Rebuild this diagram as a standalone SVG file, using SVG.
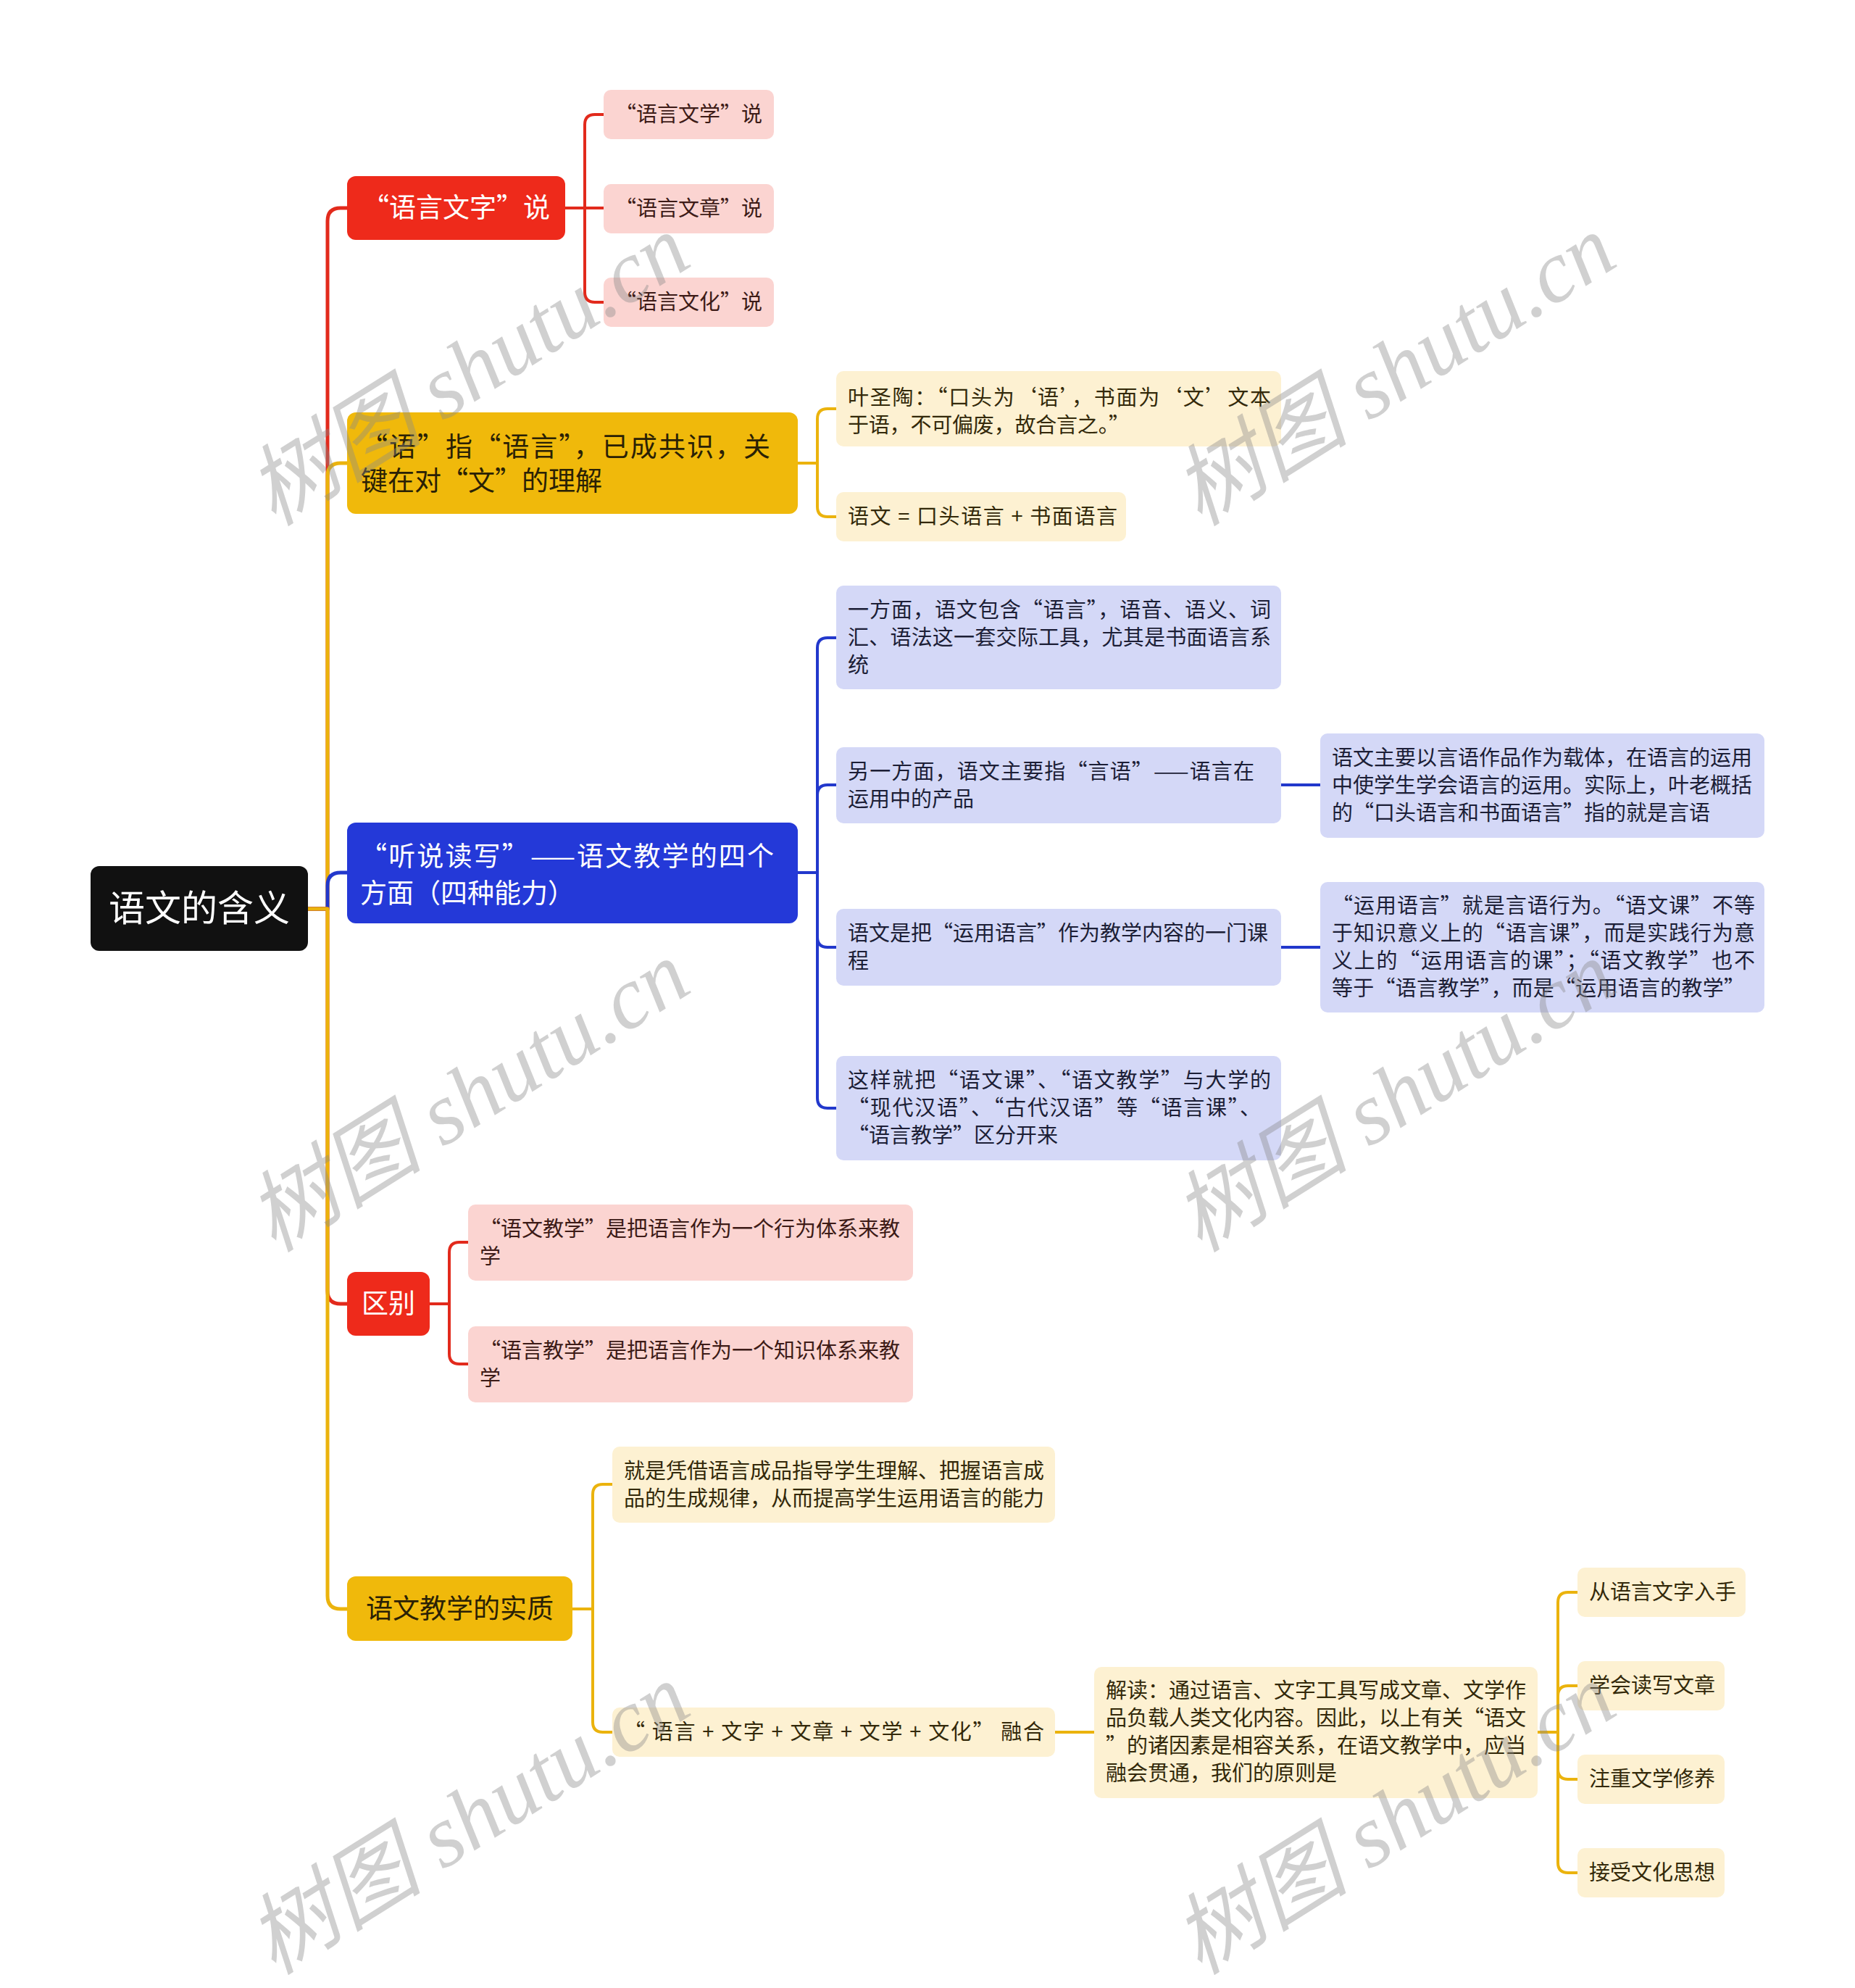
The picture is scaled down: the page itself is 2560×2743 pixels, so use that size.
<svg xmlns="http://www.w3.org/2000/svg" width="2560" height="2743" viewBox="0 0 2560 2743">
<style>
text{font-family:"Noto Sans CJK SC","Noto Sans",sans-serif;}
.e{fill:none;stroke-linecap:round;stroke-linejoin:round;}
.e1{stroke-width:5;}
.e2{stroke-width:4;}
.cr{stroke:#E22A1C;}
.cy{stroke:#EBB30D;}
.cb{stroke:#2238CC;}
.root{fill:#111111;}
.red{fill:#EE2A1B;}
.yel{fill:#F0B90B;}
.blu{fill:#2439D8;}
.pink{fill:#FBD4D1;}
.lyel{fill:#FDF1D2;}
.lblu{fill:#D4D8F7;}
.t0{font-size:50px;fill:#ffffff;}
.t1w{font-size:37px;fill:#ffffff;}
.t1d{font-size:37px;fill:#2a2105;}
.tp{font-size:29px;fill:#3d1b17;}
.ty{font-size:29px;fill:#33290a;}
.tb{font-size:29px;fill:#1c1e36;}
.wm{font-family:"Liberation Serif","Noto Sans CJK SC",serif;font-style:italic;font-size:122px;fill:#8a8a8a;fill-opacity:0.4;}
</style>

<g id="connectors">
  <path class="e e1 cr" d="M425,1254 H452 V305 Q452,287 470,287 H479"/>
  <path class="e e1 cy" d="M425,1254 H452 V657 Q452,639 470,639 H479"/>
  <path class="e e1 cb" d="M425,1254 H452 V1222 Q452,1204 470,1204 H479"/>
  <path class="e e1 cr" d="M425,1254 H452 V1781 Q452,1799 470,1799 H479"/>
  <path class="e e1 cy" d="M425,1254 H452 V2202 Q452,2220 470,2220 H479"/>

  <path class="e e2 cr" d="M780,287 H807 V172 Q807,158 821,158 H833"/>
  <path class="e e2 cr" d="M780,287 H833"/>
  <path class="e e2 cr" d="M780,287 H807 V403 Q807,417 821,417 H833"/>

  <path class="e e2 cy" d="M1101,639 H1128 V578 Q1128,564 1142,564 H1154"/>
  <path class="e e2 cy" d="M1101,639 H1128 V699 Q1128,713 1142,713 H1154"/>

  <path class="e e2 cb" d="M1101,1204 H1128 V894 Q1128,880 1142,880 H1154"/>
  <path class="e e2 cb" d="M1101,1204 H1128 V1097 Q1128,1083 1142,1083 H1154"/>
  <path class="e e2 cb" d="M1101,1204 H1128 V1293 Q1128,1307 1142,1307 H1154"/>
  <path class="e e2 cb" d="M1101,1204 H1128 V1515 Q1128,1529 1142,1529 H1154"/>
  <path class="e e2 cb" d="M1768,1083 H1822"/>
  <path class="e e2 cb" d="M1768,1307 H1822"/>

  <path class="e e2 cr" d="M593,1799 H620 V1728 Q620,1714 634,1714 H646"/>
  <path class="e e2 cr" d="M593,1799 H620 V1868 Q620,1882 634,1882 H646"/>

  <path class="e e2 cy" d="M790,2220 H818 V2062 Q818,2048 832,2048 H845"/>
  <path class="e e2 cy" d="M790,2220 H818 V2376 Q818,2390 832,2390 H845"/>
  <path class="e e2 cy" d="M1456,2390 H1510"/>
  <path class="e e2 cy" d="M2122,2390 H2150 V2211 Q2150,2197 2164,2197 H2177"/>
  <path class="e e2 cy" d="M2122,2390 H2150 V2340 Q2150,2326 2164,2326 H2177"/>
  <path class="e e2 cy" d="M2122,2390 H2150 V2441 Q2150,2455 2164,2455 H2177"/>
  <path class="e e2 cy" d="M2122,2390 H2150 V2570 Q2150,2584 2164,2584 H2177"/>
</g>

<g id="root">
  <rect class="root" x="125" y="1195" width="300" height="117" rx="12"/>
  <text class="t0" x="275" y="1271" text-anchor="middle">语文的含义</text>
</g>

<g id="n-yuyanwenzi">
  <rect class="red" x="479" y="243" width="301" height="88" rx="12"/>
  <text class="t1w" x="629.5" y="300" text-anchor="middle">“语言文字”说</text>
</g>
<g id="n-wenxue">
  <rect class="pink" x="833" y="124" width="235" height="68" rx="10"/>
  <text class="tp" x="950.5" y="168" text-anchor="middle">“语言文学”说</text>
</g>
<g id="n-wenzhang">
  <rect class="pink" x="833" y="254" width="235" height="68" rx="10"/>
  <text class="tp" x="950.5" y="298" text-anchor="middle">“语言文章”说</text>
</g>
<g id="n-wenhua">
  <rect class="pink" x="833" y="383" width="235" height="68" rx="10"/>
  <text class="tp" x="950.5" y="427" text-anchor="middle">“语言文化”说</text>
</g>

<g id="n-yu">
  <rect class="yel" x="479" y="569" width="622" height="140" rx="12"/>
  <text class="t1d" x="498" y="630" textLength="565" lengthAdjust="spacing">“语”指“语言”，已成共识，关</text>
  <text class="t1d" x="498" y="677">键在对“文”的理解</text>
</g>
<g id="n-yeshengtao">
  <rect class="lyel" x="1154" y="512" width="614" height="104" rx="10"/>
  <text class="ty" x="1170" y="559" textLength="584" lengthAdjust="spacing">叶圣陶：“口头为‘语’，书面为‘文’文本</text>
  <text class="ty" x="1170" y="597" textLength="389" lengthAdjust="spacing">于语，不可偏废，故合言之。”</text>
</g>
<g id="n-yuwen-eq">
  <rect class="lyel" x="1154" y="679" width="400" height="68" rx="10"/>
  <text class="ty" x="1170" y="723" textLength="372" lengthAdjust="spacing">语文 = 口头语言 + 书面语言</text>
</g>

<g id="n-tingshuo">
  <rect class="blu" x="479" y="1135" width="622" height="139" rx="12"/>
  <text class="t1w" x="497" y="1195" textLength="571" lengthAdjust="spacing">“听说读写”——语文教学的四个</text>
  <text class="t1w" x="497" y="1246">方面（四种能力）</text>
</g>
<g id="n-yifangmian">
  <rect class="lblu" x="1154" y="808" width="614" height="143" rx="10"/>
  <text class="tb" x="1170" y="852" textLength="584" lengthAdjust="spacing">一方面，语文包含“语言”，语音、语义、词</text>
  <text class="tb" x="1170" y="890" textLength="584" lengthAdjust="spacing">汇、语法这一套交际工具，尤其是书面语言系</text>
  <text class="tb" x="1170" y="928">统</text>
</g>
<g id="n-lingyifangmian">
  <rect class="lblu" x="1154" y="1031" width="614" height="105" rx="10"/>
  <text class="tb" x="1170" y="1075" textLength="561" lengthAdjust="spacing">另一方面，语文主要指“言语”——语言在</text>
  <text class="tb" x="1170" y="1113">运用中的产品</text>
</g>
<g id="n-zaiti">
  <rect class="lblu" x="1822" y="1012" width="613" height="144" rx="10"/>
  <text class="tb" x="1838" y="1056">语文主要以言语作品作为载体，在语言的运用</text>
  <text class="tb" x="1838" y="1094">中使学生学会语言的运用。实际上，叶老概括</text>
  <text class="tb" x="1838" y="1132">的“口头语言和书面语言”指的就是言语</text>
</g>
<g id="n-kecheng">
  <rect class="lblu" x="1154" y="1254" width="614" height="106" rx="10"/>
  <text class="tb" x="1170" y="1298">语文是把“运用语言”作为教学内容的一门课</text>
  <text class="tb" x="1170" y="1336">程</text>
</g>
<g id="n-yunyong">
  <rect class="lblu" x="1822" y="1217" width="613" height="180" rx="10"/>
  <text class="tb" x="1838" y="1260" textLength="584" lengthAdjust="spacing">“运用语言”就是言语行为。“语文课”不等</text>
  <text class="tb" x="1838" y="1298" textLength="584" lengthAdjust="spacing">于知识意义上的“语言课”，而是实践行为意</text>
  <text class="tb" x="1838" y="1336" textLength="584" lengthAdjust="spacing">义上的“运用语言的课”；“语文教学”也不</text>
  <text class="tb" x="1838" y="1374" textLength="570" lengthAdjust="spacing">等于“语言教学”，而是“运用语言的教学”</text>
</g>
<g id="n-qufen">
  <rect class="lblu" x="1154" y="1457" width="614" height="144" rx="10"/>
  <text class="tb" x="1170" y="1501" textLength="584" lengthAdjust="spacing">这样就把“语文课”、“语文教学”与大学的</text>
  <text class="tb" x="1170" y="1539" textLength="570" lengthAdjust="spacing">“现代汉语”、“古代汉语”等“语言课”、</text>
  <text class="tb" x="1170" y="1577">“语言教学”区分开来</text>
</g>

<g id="n-qubie">
  <rect class="red" x="479" y="1755" width="114" height="88" rx="12"/>
  <text class="t1w" x="536" y="1812" text-anchor="middle">区别</text>
</g>
<g id="n-xingwei">
  <rect class="pink" x="646" y="1662" width="614" height="105" rx="10"/>
  <text class="tp" x="662" y="1706">“语文教学”是把语言作为一个行为体系来教</text>
  <text class="tp" x="662" y="1744">学</text>
</g>
<g id="n-zhishi">
  <rect class="pink" x="646" y="1830" width="614" height="105" rx="10"/>
  <text class="tp" x="662" y="1874">“语言教学”是把语言作为一个知识体系来教</text>
  <text class="tp" x="662" y="1912">学</text>
</g>

<g id="n-shizhi">
  <rect class="yel" x="479" y="2175" width="311" height="89" rx="12"/>
  <text class="t1d" x="634.5" y="2233" text-anchor="middle">语文教学的实质</text>
</g>
<g id="n-pingjie">
  <rect class="lyel" x="845" y="1996" width="611" height="105" rx="10"/>
  <text class="ty" x="861" y="2040">就是凭借语言成品指导学生理解、把握语言成</text>
  <text class="ty" x="861" y="2078">品的生成规律，从而提高学生运用语言的能力</text>
</g>
<g id="n-ronghe">
  <rect class="lyel" x="845" y="2356" width="611" height="68" rx="10"/>
  <text class="ty" x="861" y="2400" textLength="580" lengthAdjust="spacing">“ 语言 + 文字 + 文章 + 文学 + 文化” 融合</text>
</g>
<g id="n-jiedu">
  <rect class="lyel" x="1510" y="2300" width="612" height="181" rx="10"/>
  <text class="ty" x="1526" y="2343">解读：通过语言、文字工具写成文章、文学作</text>
  <text class="ty" x="1526" y="2381">品负载人类文化内容。因此，以上有关“语文</text>
  <text class="ty" x="1526" y="2419">”的诸因素是相容关系，在语文教学中，应当</text>
  <text class="ty" x="1526" y="2457">融会贯通，我们的原则是</text>
</g>
<g id="n-rushou">
  <rect class="lyel" x="2177" y="2163" width="232" height="68" rx="10"/>
  <text class="ty" x="2193" y="2207">从语言文字入手</text>
</g>
<g id="n-duxie">
  <rect class="lyel" x="2177" y="2292" width="203" height="68" rx="10"/>
  <text class="ty" x="2193" y="2336">学会读写文章</text>
</g>
<g id="n-xiuyang">
  <rect class="lyel" x="2177" y="2421" width="203" height="68" rx="10"/>
  <text class="ty" x="2193" y="2465">注重文学修养</text>
</g>
<g id="n-sixiang">
  <rect class="lyel" x="2177" y="2550" width="203" height="68" rx="10"/>
  <text class="ty" x="2193" y="2594">接受文化思想</text>
</g>

<g id="watermarks">
  <text class="wm" x="647" y="552" text-anchor="middle" transform="rotate(-32 647 512)">树图 shutu.cn</text>
  <text class="wm" x="1925" y="552" text-anchor="middle" transform="rotate(-32 1925 512)">树图 shutu.cn</text>
  <text class="wm" x="647" y="1554" text-anchor="middle" transform="rotate(-32 647 1514)">树图 shutu.cn</text>
  <text class="wm" x="1925" y="1554" text-anchor="middle" transform="rotate(-32 1925 1514)">树图 shutu.cn</text>
  <text class="wm" x="647" y="2551" text-anchor="middle" transform="rotate(-32 647 2511)">树图 shutu.cn</text>
  <text class="wm" x="1925" y="2551" text-anchor="middle" transform="rotate(-32 1925 2511)">树图 shutu.cn</text>
</g>
</svg>
